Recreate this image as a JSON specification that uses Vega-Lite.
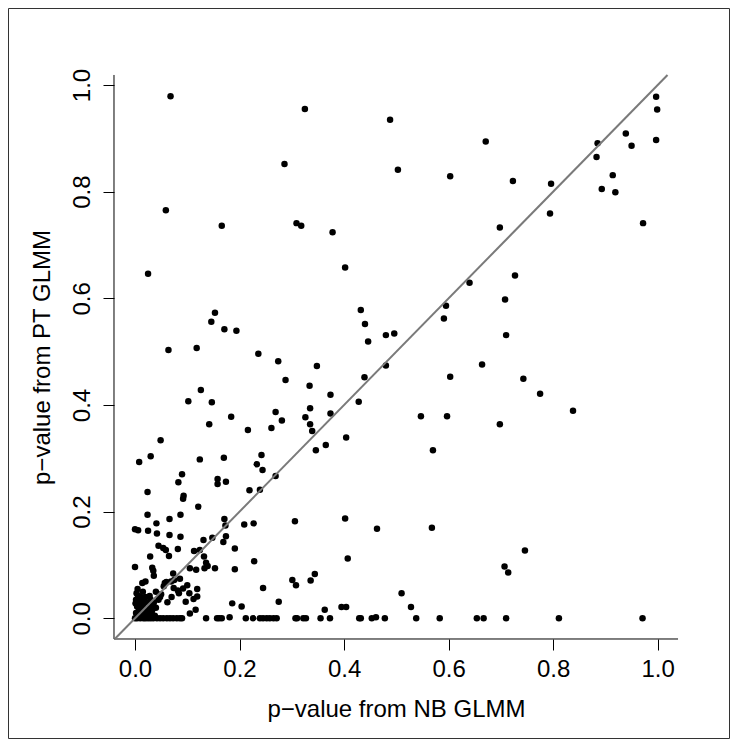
{
  "$schema": "https://vega.github.io/schema/vega-lite/v6.json",
  "width": 721,
  "height": 730,
  "autosize": {"type": "none"},
  "padding": {"left": 8, "top": 8, "right": 8, "bottom": 8},
  "background": "white",
  "config": {
    "view": {"stroke": "#333333", "strokeWidth": 1},
    "font": "Liberation Sans"
  },
  "layer": [
    {
      "data": {"values": [
        {"nb":0.068,"pt":0.979},{"nb":0.325,"pt":0.955},{"nb":0.488,"pt":0.935},{"nb":0.997,"pt":0.978},{"nb":0.999,"pt":0.954},
        {"nb":0.997,"pt":0.897},{"nb":0.939,"pt":0.909},{"nb":0.950,"pt":0.886},{"nb":0.885,"pt":0.891},{"nb":0.883,"pt":0.865},
        {"nb":0.914,"pt":0.831},{"nb":0.893,"pt":0.805},{"nb":0.919,"pt":0.799},{"nb":0.671,"pt":0.894},{"nb":0.286,"pt":0.852},
        {"nb":0.503,"pt":0.841},{"nb":0.603,"pt":0.829},{"nb":0.723,"pt":0.820},{"nb":0.796,"pt":0.815},{"nb":0.794,"pt":0.759},
        {"nb":0.972,"pt":0.741},{"nb":0.059,"pt":0.765},{"nb":0.166,"pt":0.736},{"nb":0.309,"pt":0.741},{"nb":0.318,"pt":0.736},
        {"nb":0.378,"pt":0.724},{"nb":0.698,"pt":0.733},{"nb":0.402,"pt":0.658},{"nb":0.025,"pt":0.646},{"nb":0.640,"pt":0.629},
        {"nb":0.727,"pt":0.643},{"nb":0.708,"pt":0.598},{"nb":0.432,"pt":0.578},{"nb":0.595,"pt":0.586},{"nb":0.591,"pt":0.562},
        {"nb":0.440,"pt":0.552},{"nb":0.153,"pt":0.573},{"nb":0.146,"pt":0.556},{"nb":0.171,"pt":0.542},{"nb":0.194,"pt":0.539},
        {"nb":0.446,"pt":0.519},{"nb":0.480,"pt":0.531},{"nb":0.496,"pt":0.534},{"nb":0.710,"pt":0.531},{"nb":0.064,"pt":0.503},
        {"nb":0.118,"pt":0.507},{"nb":0.236,"pt":0.496},{"nb":0.274,"pt":0.482},{"nb":0.348,"pt":0.473},{"nb":0.480,"pt":0.474},
        {"nb":0.664,"pt":0.476},{"nb":0.288,"pt":0.447},{"nb":0.439,"pt":0.452},{"nb":0.603,"pt":0.453},{"nb":0.743,"pt":0.449},
        {"nb":0.334,"pt":0.436},{"nb":0.775,"pt":0.421},{"nb":0.374,"pt":0.419},{"nb":0.126,"pt":0.428},{"nb":0.102,"pt":0.407},
        {"nb":0.147,"pt":0.405},{"nb":0.428,"pt":0.406},{"nb":0.335,"pt":0.394},{"nb":0.838,"pt":0.389},{"nb":0.269,"pt":0.387},
        {"nb":0.326,"pt":0.377},{"nb":0.184,"pt":0.378},{"nb":0.547,"pt":0.379},{"nb":0.597,"pt":0.379},{"nb":0.374,"pt":0.384},
        {"nb":0.281,"pt":0.371},{"nb":0.142,"pt":0.364},{"nb":0.335,"pt":0.364},{"nb":0.261,"pt":0.357},{"nb":0.698,"pt":0.364},
        {"nb":0.216,"pt":0.353},{"nb":0.339,"pt":0.351},{"nb":0.365,"pt":0.325},{"nb":0.404,"pt":0.339},{"nb":0.049,"pt":0.334},
        {"nb":0.346,"pt":0.315},{"nb":0.570,"pt":0.315},{"nb":0.030,"pt":0.304},{"nb":0.008,"pt":0.293},{"nb":0.124,"pt":0.298},
        {"nb":0.170,"pt":0.301},{"nb":0.242,"pt":0.306},{"nb":0.233,"pt":0.289},{"nb":0.244,"pt":0.278},{"nb":0.269,"pt":0.267},
        {"nb":0.090,"pt":0.270},{"nb":0.083,"pt":0.255},{"nb":0.158,"pt":0.261},{"nb":0.158,"pt":0.252},{"nb":0.174,"pt":0.256},
        {"nb":0.024,"pt":0.237},{"nb":0.093,"pt":0.230},{"nb":0.092,"pt":0.224},{"nb":0.219,"pt":0.240},{"nb":0.239,"pt":0.241},
        {"nb":0.121,"pt":0.209},{"nb":0.024,"pt":0.194},{"nb":0.087,"pt":0.194},{"nb":0.066,"pt":0.186},{"nb":0.000,"pt":0.167},
        {"nb":0.006,"pt":0.165},{"nb":0.025,"pt":0.164},{"nb":0.042,"pt":0.159},{"nb":0.041,"pt":0.178},{"nb":0.066,"pt":0.156},
        {"nb":0.087,"pt":0.153},{"nb":0.171,"pt":0.186},{"nb":0.173,"pt":0.174},{"nb":0.174,"pt":0.154},{"nb":0.169,"pt":0.143},
        {"nb":0.209,"pt":0.176},{"nb":0.227,"pt":0.178},{"nb":0.306,"pt":0.182},{"nb":0.131,"pt":0.147},{"nb":0.148,"pt":0.151},
        {"nb":0.113,"pt":0.126},{"nb":0.124,"pt":0.128},{"nb":0.082,"pt":0.130},{"nb":0.045,"pt":0.136},{"nb":0.054,"pt":0.132},
        {"nb":0.059,"pt":0.128},{"nb":0.065,"pt":0.117},{"nb":0.029,"pt":0.116},{"nb":0.132,"pt":0.116},{"nb":0.136,"pt":0.104},
        {"nb":0.191,"pt":0.131},{"nb":0.000,"pt":0.096},{"nb":0.033,"pt":0.095},{"nb":0.035,"pt":0.089},{"nb":0.036,"pt":0.080},
        {"nb":0.105,"pt":0.094},{"nb":0.117,"pt":0.091},{"nb":0.133,"pt":0.094},{"nb":0.139,"pt":0.098},{"nb":0.153,"pt":0.094},
        {"nb":0.191,"pt":0.092},{"nb":0.228,"pt":0.107},{"nb":0.073,"pt":0.084},{"nb":0.086,"pt":0.074},{"nb":0.014,"pt":0.066},
        {"nb":0.020,"pt":0.069},{"nb":0.057,"pt":0.066},{"nb":0.069,"pt":0.069},{"nb":0.075,"pt":0.072},{"nb":0.074,"pt":0.057},
        {"nb":0.082,"pt":0.052},{"nb":0.092,"pt":0.056},{"nb":0.100,"pt":0.062},{"nb":0.084,"pt":0.047},{"nb":0.104,"pt":0.047},
        {"nb":0.119,"pt":0.055},{"nb":0.119,"pt":0.041},{"nb":0.245,"pt":0.057},{"nb":0.301,"pt":0.072},{"nb":0.308,"pt":0.062},
        {"nb":0.097,"pt":0.031},{"nb":0.112,"pt":0.036},{"nb":0.186,"pt":0.028},{"nb":0.204,"pt":0.022},{"nb":0.275,"pt":0.031},
        {"nb":0.002,"pt":0.035},{"nb":0.001,"pt":0.028},{"nb":0.004,"pt":0.022},{"nb":0.008,"pt":0.019},{"nb":0.016,"pt":0.022},
        {"nb":0.029,"pt":0.024},{"nb":0.035,"pt":0.025},{"nb":0.105,"pt":0.009},{"nb":0.116,"pt":0.016},{"nb":0.402,"pt":0.187},
        {"nb":0.463,"pt":0.168},{"nb":0.568,"pt":0.170},{"nb":0.407,"pt":0.112},{"nb":0.344,"pt":0.083},{"nb":0.336,"pt":0.071},
        {"nb":0.510,"pt":0.047},{"nb":0.395,"pt":0.021},{"nb":0.404,"pt":0.021},{"nb":0.363,"pt":0.016},{"nb":0.528,"pt":0.021},
        {"nb":0.461,"pt":0.002},{"nb":0.746,"pt":0.127},{"nb":0.707,"pt":0.097},{"nb":0.714,"pt":0.086},{"nb":0.181,"pt":0.002},
        {"nb":0.003,"pt":0.047},{"nb":0.010,"pt":0.040},{"nb":0.006,"pt":0.012},{"nb":0.012,"pt":0.008},{"nb":0.018,"pt":0.014},
        {"nb":0.022,"pt":0.030},{"nb":0.027,"pt":0.018},{"nb":0.032,"pt":0.010},{"nb":0.040,"pt":0.020},{"nb":0.045,"pt":0.035},
        {"nb":0.050,"pt":0.045},{"nb":0.055,"pt":0.060},{"nb":0.010,"pt":0.030},{"nb":0.015,"pt":0.050},{"nb":0.020,"pt":0.040},
        {"nb":0.025,"pt":0.005},{"nb":0.038,"pt":0.005},{"nb":0.060,"pt":0.068},{"nb":0.048,"pt":0.040},{"nb":0.002,"pt":0.010},
        {"nb":0.030,"pt":0.035},{"nb":0.014,"pt":0.026},{"nb":0.040,"pt":0.050},{"nb":0.062,"pt":0.030},{"nb":0.070,"pt":0.040},
        {"nb":0.006,"pt":0.042},{"nb":0.013,"pt":0.016},{"nb":0.019,"pt":0.006},{"nb":0.024,"pt":0.012},{"nb":0.033,"pt":0.016},
        {"nb":0.008,"pt":0.004},{"nb":0.017,"pt":0.033},{"nb":0.028,"pt":0.042},{"nb":0.036,"pt":0.030},{"nb":0.005,"pt":0.055},
        {"nb":0.000,"pt":0.000},{"nb":0.004,"pt":0.000},{"nb":0.010,"pt":0.000},{"nb":0.016,"pt":0.000},{"nb":0.020,"pt":0.000},
        {"nb":0.025,"pt":0.000},{"nb":0.030,"pt":0.000},{"nb":0.035,"pt":0.000},{"nb":0.042,"pt":0.000},{"nb":0.048,"pt":0.000},
        {"nb":0.054,"pt":0.000},{"nb":0.061,"pt":0.000},{"nb":0.067,"pt":0.000},{"nb":0.073,"pt":0.000},{"nb":0.080,"pt":0.000},
        {"nb":0.086,"pt":0.000},{"nb":0.090,"pt":0.000},{"nb":0.136,"pt":0.000},{"nb":0.157,"pt":0.000},{"nb":0.161,"pt":0.000},
        {"nb":0.166,"pt":0.000},{"nb":0.212,"pt":0.000},{"nb":0.226,"pt":0.000},{"nb":0.239,"pt":0.000},{"nb":0.245,"pt":0.000},
        {"nb":0.252,"pt":0.000},{"nb":0.258,"pt":0.000},{"nb":0.265,"pt":0.000},{"nb":0.271,"pt":0.000},{"nb":0.307,"pt":0.000},
        {"nb":0.310,"pt":0.000},{"nb":0.322,"pt":0.000},{"nb":0.327,"pt":0.000},{"nb":0.355,"pt":0.000},{"nb":0.373,"pt":0.000},
        {"nb":0.429,"pt":0.000},{"nb":0.432,"pt":0.000},{"nb":0.453,"pt":0.000},{"nb":0.478,"pt":0.000},{"nb":0.538,"pt":0.000},
        {"nb":0.583,"pt":0.000},{"nb":0.654,"pt":0.000},{"nb":0.667,"pt":0.000},{"nb":0.710,"pt":0.000},{"nb":0.811,"pt":0.000},
        {"nb":0.971,"pt":0.000}
      ]},
      "mark": {"type": "circle", "color": "black", "opacity": 1, "size": 42},
      "encoding": {
        "x": {
          "field": "nb", "type": "quantitative",
          "scale": {"domain": [-0.24297, 1.13641], "nice": false, "zero": false},
          "axis": {
            "orient": "bottom", "offset": -99, "domain": false, "grid": false,
            "values": [0, 0.2, 0.4, 0.6, 0.8, 1], "format": ".1f",
            "tickSize": 11, "tickColor": "black", "tickWidth": 1,
            "labelFont": "Liberation Sans", "labelFontSize": 24, "labelColor": "black",
            "labelPadding": 26, "labelBaseline": "alphabetic", "labelAlign": "center",
            "labelFlush": false, "labelOverlap": false,
            "title": "p−value from NB GLMM", "titleFont": "Liberation Sans", "titleFontSize": 24,
            "titleFontWeight": "normal", "titleColor": "black",
            "titleX": 388, "titleY": 77, "titleBaseline": "alphabetic", "titleAlign": "center"
          }
        },
        "y": {
          "field": "pt", "type": "quantitative",
          "scale": {"domain": [-0.22445, 1.14439], "nice": false, "zero": false},
          "axis": {
            "orient": "left", "offset": -106, "domain": false, "grid": false,
            "values": [0, 0.2, 0.4, 0.6, 0.8, 1], "format": ".1f",
            "tickSize": 11, "tickColor": "black", "tickWidth": 1,
            "labelFont": "Liberation Sans", "labelFontSize": 24, "labelColor": "black",
            "labelAngle": 270, "labelPadding": 14, "labelBaseline": "alphabetic", "labelAlign": "center",
            "labelFlush": false, "labelOverlap": false,
            "title": "p−value from PT GLMM", "titleFont": "Liberation Sans", "titleFontSize": 24,
            "titleFontWeight": "normal", "titleColor": "black", "titleAngle": 270,
            "titleX": -65, "titleY": 349, "titleBaseline": "alphabetic", "titleAlign": "center"
          }
        }
      }
    },
    {
      "data": {"values": [{}]},
      "mark": {"type": "rule", "color": "black", "strokeWidth": 1},
      "encoding": {
        "x": {"datum": -0.0402, "type": "quantitative"},
        "x2": {"datum": 1.0389},
        "y": {"datum": -0.0388, "type": "quantitative"}
      }
    },
    {
      "data": {"values": [{}]},
      "mark": {"type": "rule", "color": "black", "strokeWidth": 1},
      "encoding": {
        "x": {"datum": -0.0402, "type": "quantitative"},
        "y": {"datum": -0.0388, "type": "quantitative"},
        "y2": {"datum": 1.0188}
      }
    },
    {
      "data": {"values": [{}]},
      "mark": {"type": "rule", "color": "#7a7a7a", "strokeWidth": 2},
      "encoding": {
        "x": {"datum": -0.0388, "type": "quantitative"},
        "x2": {"datum": 1.0188},
        "y": {"datum": -0.0388, "type": "quantitative"},
        "y2": {"datum": 1.0188}
      }
    }
  ]
}
